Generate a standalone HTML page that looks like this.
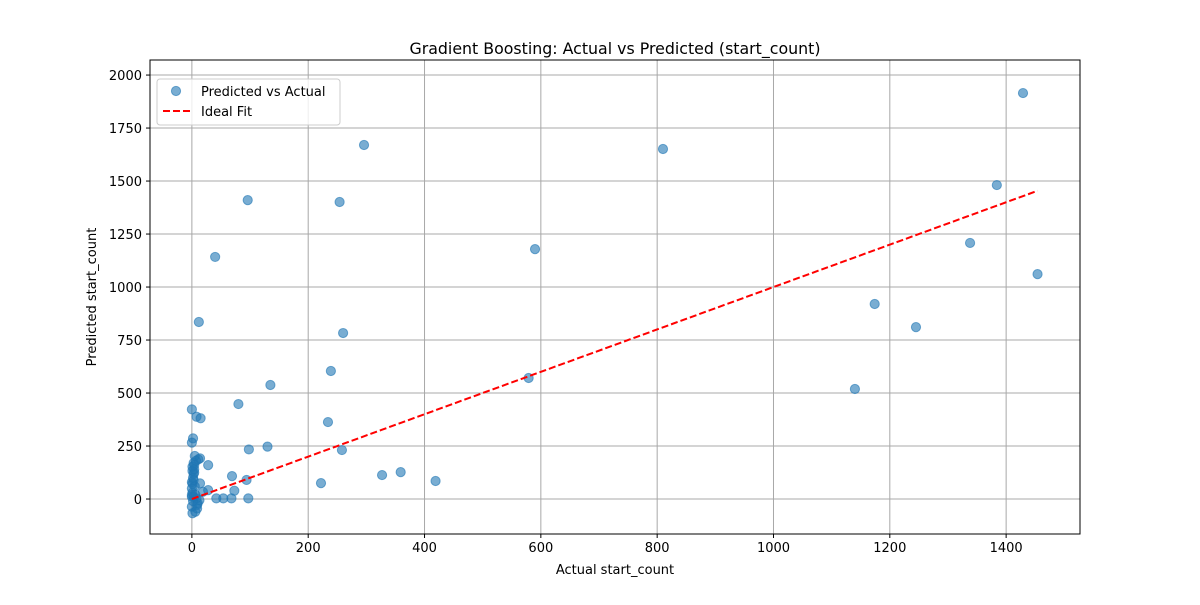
<!DOCTYPE html>
<html><head><meta charset="utf-8"><style>
body{margin:0;background:#fff;font-family:"Liberation Sans","DejaVu Sans",sans-serif}
svg text{font-family:"DejaVu Sans","Liberation Sans",sans-serif}
</style></head><body>
<svg id="chart" width="1200" height="600" xmlns="http://www.w3.org/2000/svg">
<rect width="1200" height="600" fill="#fff"/>
<g id="grid"></g><g id="marks"></g><g id="axes"></g>
</svg>
<script>
const actual=[0,8,15,2,0,5,14,11,28,1,4,1,3,0,1,14,28,19,0,3,8,13,42,54,68,97,69,73,94,0,6,1,9,80,135,98,130,40,12,96,296,254,260,239,234,258,222,327,359,419,590,579,810,1429,1384,1338,1454,1174,1245,1140,0,2,3,1,5,4,2,6,10,7,3,0,9,4];
const predicted=[423,388,381,286,266,203,192,187,160,152,160,133,118,80,72,74,42,34,19,11,3,-5,3,3,3,3,108,39,90,-36,-60,-67,-28,448,538,234,247,1142,835,1410,1670,1401,783,604,363,231,75,113,127,85,1179,571,1651,1915,1481,1208,1061,920,811,519,50,100,170,30,60,140,-10,20,-20,180,90,10,-45,125];
const xTicks=[0,200,400,600,800,1000,1200,1400];
const yTicks=[0,250,500,750,1000,1250,1500,1750,2000];
const idealRange=[0,1454];
const L=150,R=1080,T=60,B=534,xMin=-72,xMax=1527,yMin=-165,yMax=2071;
const sx=v=>L+(v-xMin)/(xMax-xMin)*(R-L);
const sy=v=>B-(v-yMin)/(yMax-yMin)*(B-T);
const NS="http://www.w3.org/2000/svg";
function mk(tag,attrs,parent,txt){const e=document.createElementNS(NS,tag);for(const k in attrs)e.setAttribute(k,attrs[k]);if(txt!=null)e.textContent=txt;parent.appendChild(e);return e;}
const grid=document.getElementById('grid'),marks=document.getElementById('marks'),axes=document.getElementById('axes');
xTicks.forEach(t=>{const x=sx(t);
 const g=mk('line',{x1:x,x2:x,y1:T,y2:B,stroke:'#a8a8a8','stroke-width':1},grid);
 
 mk('line',{x1:x,x2:x,y1:B,y2:B+4,stroke:'#000'},axes);
 const l=mk('text',{x:x,y:B+18,'text-anchor':'middle','font-size':13},axes,t);
 });
yTicks.forEach(t=>{const y=sy(t);
 const g=mk('line',{x1:L,x2:R,y1:y,y2:y,stroke:'#a8a8a8','stroke-width':1},grid);
 
 mk('line',{x1:L-4,x2:L,y1:y,y2:y,stroke:'#000'},axes);
 const l=mk('text',{x:L-8,y:y+5,'text-anchor':'end','font-size':13},axes,t);
 });
actual.forEach((a,i)=>{const c=mk('circle',{cx:sx(a),cy:sy(predicted[i]),r:4.6,fill:'#1f77b4','fill-opacity':0.6,stroke:'#1f77b4','stroke-opacity':0.6},marks);
 });
const il=mk('line',{x1:sx(idealRange[0]),y1:sy(idealRange[0]),x2:sx(idealRange[1]),y2:sy(idealRange[1]),stroke:'#f00','stroke-width':2,'stroke-dasharray':'7,3'},marks);

const fr=mk('rect',{x:L,y:T,width:R-L,height:B-T,fill:'none',stroke:'#000','stroke-width':1},axes);

const tt=mk('text',{x:(L+R)/2,y:T-6,'text-anchor':'middle','font-size':15.8},axes,'Gradient Boosting: Actual vs Predicted (start_count)');

const xt=mk('text',{x:(L+R)/2,y:574,'text-anchor':'middle','font-size':13},axes,'Actual start_count');

const yt=mk('text',{x:0,y:0,'text-anchor':'middle','font-size':13,transform:`translate(96,${(T+B)/2}) rotate(-90)`},axes,'Predicted start_count');

const lg=mk('g',{},axes);

mk('rect',{x:157,y:79,width:183,height:46,rx:3,fill:'#fff','fill-opacity':0.8,stroke:'#ccc'},lg);
const le1=mk('circle',{cx:176,cy:91,r:4.6,fill:'#1f77b4','fill-opacity':0.6,stroke:'#1f77b4','stroke-opacity':0.6},lg);

const lt1=mk('text',{x:201,y:96,'font-size':13},lg,'Predicted vs Actual');

const le2=mk('line',{x1:163,x2:191,y1:111,y2:111,stroke:'#f00','stroke-width':2,'stroke-dasharray':'7,3'},lg);

const lt2=mk('text',{x:201,y:116,'font-size':13},lg,'Ideal Fit');

</script>
</body></html>
